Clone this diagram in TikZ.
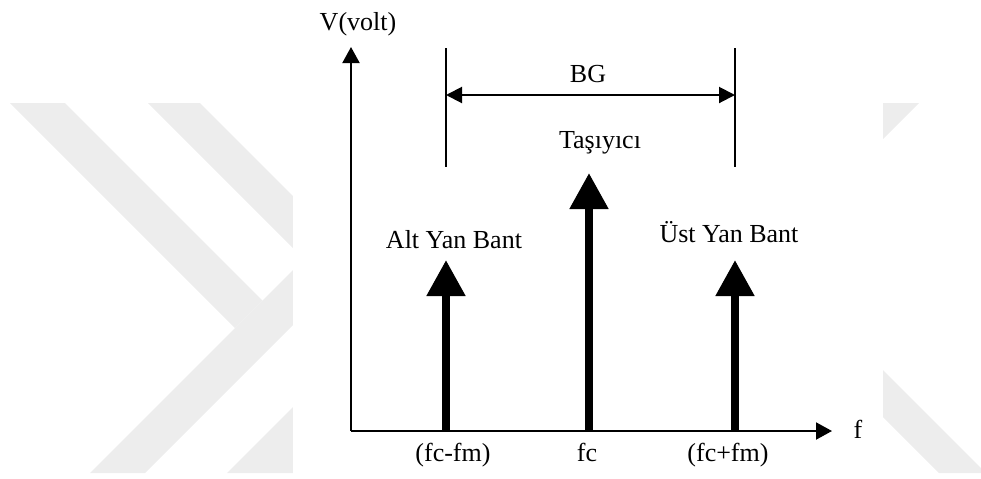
\documentclass[tikz,border=0pt]{standalone}
\usepackage{fontspec}
\setmainfont{Liberation Serif}
\usetikzlibrary{arrows.meta}
\begin{document}
\begin{tikzpicture}[x=0.5pt,y=-0.5pt,
  wm/.style={fill=black!7,draw=none},
  lbl/.style={anchor=base,inner sep=0pt,font=\fontsize{13}{15}\selectfont},
  axisline/.style={line width=1pt,-{Triangle[length=8pt,width=8.5pt]}},
  thinline/.style={line width=1pt},
  bgarrow/.style={line width=1pt,{Triangle[length=8pt,width=8pt]}-{Triangle[length=8pt,width=8pt]}},
  spike/.style={line width=4pt,-{Triangle[length=18pt,width=18.5pt]}}]
\useasboundingbox (0,0) rectangle (981,478);
% watermark
\fill[wm] (10,103) -- (65,103) -- (262.5,300.5) -- (235,328) -- cycle;
\fill[wm] (90,473) -- (145,473) -- (293,325) -- (293,270) -- cycle;
\fill[wm] (148,103) -- (200,103) -- (293,196) -- (293,248) -- cycle;
\fill[wm] (227,473) -- (293,473) -- (293,407) -- cycle;
\fill[wm] (883,370) -- (883,417) -- (939,473) -- (981,473) -- (981,468) -- cycle;
\fill[wm] (883,103) -- (919,103) -- (883,139) -- cycle;
\fill[white] (293,0) rectangle (883,478);
% axes
\coordinate (O) at (351,431);
\coordinate (ytop) at (351,47);
\coordinate (xend) at (832,431);
\draw[axisline] (O) -- (ytop);
\draw[axisline] (O) -- (xend);
% bandwidth markers
\coordinate (l1) at (446,48);
\coordinate (l2) at (446,167);
\coordinate (r1) at (735,48);
\coordinate (r2) at (735,167);
\draw[thinline] (l1) -- (l2);
\draw[thinline] (r1) -- (r2);
\coordinate (bgl) at (446,95);
\coordinate (bgr) at (735,95);
\draw[bgarrow] (bgl) -- (bgr);
% spectral lines
\coordinate (b1) at (446,431);
\coordinate (t1) at (446,260);
\coordinate (b2) at (589,431);
\coordinate (t2) at (589,173);
\coordinate (b3) at (735,431);
\coordinate (t3) at (735,260);
\draw[spike] (b1) -- (t1);
\draw[spike] (b2) -- (t2);
\draw[spike] (b3) -- (t3);
% labels
\node[lbl] (vlab) at (358,30) {V(volt)};
\node[lbl] (flab) at (858,438) {f};
\node[lbl] (bglab) at (588,82) {BG};
\node[lbl] (tas) at (600,148) {Taşıyıcı};
\node[lbl] (alt) at (454,248) {Alt Yan Bant};
\node[lbl] (ust) at (729,242) {Üst Yan Bant};
\node[lbl] (fl) at (453,461) {(fc-fm)};
\node[lbl] (fcl) at (587,461) {fc};
\node[lbl] (fr) at (728,461) {(fc+fm)};
\end{tikzpicture}
\end{document}
